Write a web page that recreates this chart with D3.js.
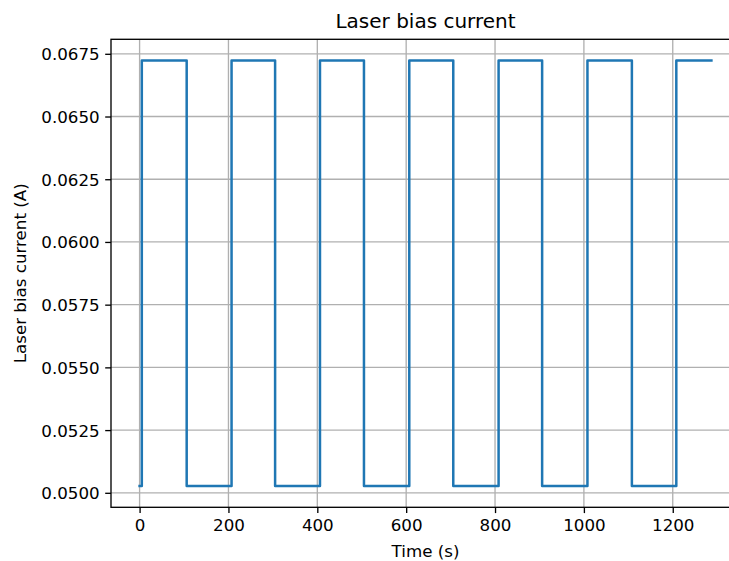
<!DOCTYPE html>
<html>
<head>
<meta charset="utf-8">
<script src="https://cdn.jsdelivr.net/npm/d3@7"></script>
<style>
  body { margin: 0; background: #fff; }
  svg { display: block; font-family: "DejaVu Sans", sans-serif; }
</style>
</head>
<body>
<div id="chart"></div>
<script>
// step points of the bias current (time in s, current in A)
const times = [0, 5, 106, 207, 305, 406, 505, 607, 706, 808, 906, 1008, 1108, 1208, 1287];
const current = [0.05027, 0.06723, 0.05027, 0.06723, 0.05027, 0.06723, 0.05027, 0.06723,
                 0.05027, 0.06723, 0.05027, 0.06723, 0.05027, 0.06723, 0.06723];
const xTicks = [0, 200, 400, 600, 800, 1000, 1200];
const yTicks = [0.0500, 0.0525, 0.0550, 0.0575, 0.0600, 0.0625, 0.0650, 0.0675];

const W = 729, H = 561;
const margin = { top: 39.3, right: -11, bottom: 53.7, left: 111 };
const width = W - margin.left - margin.right;
const height = H - margin.top - margin.bottom;

const data = times.map((t, i) => ({ t: t, v: current[i] }));

// matplotlib style 5% padding round the data
const tMin = d3.min(times), tMax = d3.max(times);
const vMin = d3.min(current), vMax = d3.max(current);
const tPad = (tMax - tMin) * 0.05, vPad = (vMax - vMin) * 0.05;

const x = d3.scaleLinear()
  .domain([tMin - tPad, tMax + tPad])
  .range([0, width]);
const y = d3.scaleLinear()
  .domain([vMin - vPad, vMax + vPad])
  .range([height, 0]);

const svg = d3.select("#chart").append("svg")
  .attr("width", W)
  .attr("height", H);

const g = svg.append("g")
  .attr("transform", "translate(" + margin.left + "," + margin.top + ")");

// grid
g.append("g")
  .selectAll("line")
  .data(xTicks)
  .enter().append("line")
  .attr("x1", d => x(d)).attr("x2", d => x(d))
  .attr("y1", 0).attr("y2", height)
  .attr("stroke", "#b0b0b0")
  .attr("stroke-width", 1.33);
g.append("g")
  .selectAll("line")
  .data(yTicks)
  .enter().append("line")
  .attr("x1", 0).attr("x2", width)
  .attr("y1", d => y(d)).attr("y2", d => y(d))
  .attr("stroke", "#b0b0b0")
  .attr("stroke-width", 1.33);

// the signal
const line = d3.line()
  .x(d => x(d.t))
  .y(d => y(d.v))
  .curve(d3.curveStepAfter);
g.append("path")
  .datum(data)
  .attr("d", line)
  .attr("fill", "none")
  .attr("stroke", "#1f77b4")
  .attr("stroke-width", 2.5)
  .attr("stroke-linecap", "square")
  .attr("stroke-linejoin", "round");

// axes
const xAxis = g.append("g")
  .attr("transform", "translate(0," + height + ")")
  .call(d3.axisBottom(x).tickValues(xTicks).tickFormat(d3.format("d")).tickSize(5.8).tickPadding(5.5).tickSizeOuter(0));
const yAxis = g.append("g")
  .call(d3.axisLeft(y).tickValues(yTicks).tickFormat(d3.format(".4f")).tickSize(5.8).tickPadding(5.5).tickSizeOuter(0));

[xAxis, yAxis].forEach(a => {
  a.select(".domain").remove();
  a.selectAll(".tick line").attr("stroke", "#000").attr("stroke-width", 1.33);
  a.selectAll("text")
    .attr("fill", "#000")
    .style("font-size", "16.7px")
    .style("font-family", "DejaVu Sans, sans-serif");
});
yAxis.selectAll("text").attr("dy", "0.36em");
xAxis.selectAll("text").attr("dy", "0.76em");

// spines
g.append("rect")
  .attr("x", 0).attr("y", 0)
  .attr("width", width).attr("height", height)
  .attr("fill", "none")
  .attr("stroke", "#000")
  .attr("stroke-width", 1.33);

// labels
svg.append("text")
  .attr("x", margin.left + width / 2)
  .attr("y", 28)
  .attr("text-anchor", "middle")
  .style("font-size", "20px")
  .text("Laser bias current");

svg.append("text")
  .attr("x", margin.left + width / 2)
  .attr("y", 556.5)
  .attr("text-anchor", "middle")
  .style("font-size", "16.7px")
  .text("Time (s)");

svg.append("text")
  .attr("transform", "translate(25.5," + (margin.top + height / 2) + ") rotate(-90)")
  .attr("text-anchor", "middle")
  .style("font-size", "16.7px")
  .text("Laser bias current (A)");
</script>
</body>
</html>
